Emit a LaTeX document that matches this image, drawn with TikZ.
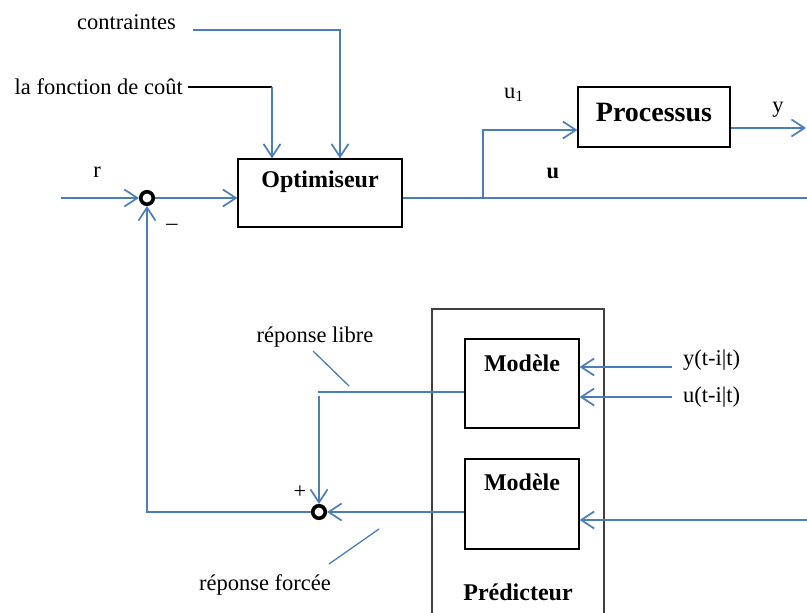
\documentclass[tikz,border=0pt]{standalone}
\usepackage{fontspec}
\setmainfont{Liberation Serif}
\usetikzlibrary{arrows.meta}
\definecolor{wire}{RGB}{74,126,187}
\tikzset{
  wireline/.style={draw=wire, line width=2.1pt},
  arr/.style={wireline, -{Straight Barb[length=13pt,width=17pt,line width=1.7pt]}},
  pointer/.style={draw=wire, line width=1.3pt},
  blockbox/.style={draw=black, line width=1.2pt, rectangle, inner sep=0pt},
  sumnode/.style={circle, draw=black, line width=3.6pt, minimum size=12.5pt, inner sep=0pt, fill=white},
  lbl/.style={inner sep=0pt, font=\fontsize{22.5}{26}\selectfont},
  blbl/.style={inner sep=0pt, font=\fontsize{24}{28}\selectfont\bfseries},
}
\begin{document}
\begin{tikzpicture}[x=1pt, y=-1pt]
\useasboundingbox (0,0) rectangle (807,613);

% main blocks
\node[blockbox, minimum width=164pt, minimum height=68pt] (opt) at (320,193) {};
\node[blbl] (optl) at (320,182) {Optimiseur};
\node[blockbox, minimum width=152pt, minimum height=60pt] (proc) at (654,117) {};
\node[blbl, font=\fontsize{28}{32}\selectfont\bfseries] (procl) at (654,113) {Processus};

% predictor frame, open at the bottom
\draw[draw=black!75, line width=1.2pt] (432,625) -- (432,309) -- (604,309) -- (604,625);
\node[blbl] (predl) at (518,592) {Prédicteur};
\node[blockbox, minimum width=114pt, minimum height=89pt] (m1) at (522,383.5) {};
\node[blbl] (m1l) at (522,363) {Modèle};
\node[blockbox, minimum width=114pt, minimum height=90pt] (m2) at (522,504) {};
\node[blbl] (m2l) at (522,482) {Modèle};

% summing points
\node[sumnode] (s1) at (147,198) {};
\node[sumnode] (s2) at (319,512) {};

% free ends of the connectors
\coordinate (rin) at (61,198);
\coordinate (cin) at (193,30);
\coordinate (fin) at (188,87);
\coordinate (fcorner) at (272,87);
\coordinate (uend) at (807,198);
\coordinate (ubr) at (483,198);
\coordinate (yend) at (806,128);
\coordinate (yin) at (672,367);
\coordinate (uin) at (672,397);
\coordinate (fbin) at (807,520);
\coordinate (lcorner) at (318,392);
\coordinate (ltop) at (319,396);

% labels
\node[lbl, anchor=east] (cl) at (176,22) {contraintes};
\node[lbl, anchor=east] (fl) at (183,87) {la fonction de coût};
\node[lbl] (rl) at (97,172) {r};
\node[lbl, anchor=base] (minus) at (172,222) {\_};
\node[lbl] (plus) at (300,492) {+};
\node[lbl] (u1l) at (514,95) {u\textsubscript{1}};
\node[lbl, font=\fontsize{22.5}{26}\selectfont\bfseries] (ul) at (553,173) {u};
\node[lbl] (yl) at (778,110) {y};
\node[lbl, anchor=west] (yil) at (683,360) {y(t-i|t)};
\node[lbl, anchor=west] (uil) at (683,397) {u(t-i|t)};
\node[lbl] (rll) at (315,337) {réponse libre};
\node[lbl] (rfl) at (265,585) {réponse forcée};

% reference path and feedback loop
\draw[arr] (rin) -- (s1);
\draw[arr] (s1) -- (opt.west |- s1);
\draw[arr] (s2) -| (s1);

% optimiser inputs
\draw[arr] (cin) -| (opt.north -| 340,0);
\draw[draw=black, line width=1.3pt] (fin) -- (fcorner);
\draw[arr] (fcorner) -- (opt.north -| fcorner);

% control signal
\draw[wireline] (opt.east |- uend) -- (uend);
\draw[arr] (ubr) |- (proc.west |- 0,130);
\draw[arr] (proc.east |- yend) -- (yend);

% predictor inputs
\draw[arr] (yin) -- (m1.east |- yin);
\draw[arr] (uin) -- (m1.east |- uin);
\draw[arr] (fbin) -- (m2.east |- fbin);

% predictor outputs
\draw[wireline, line width=1.4pt] (m1.west |- lcorner) -- (lcorner);
\draw[arr] (ltop) -- (s2);
\draw[arr] (m2.west |- s2) -- (s2);

% pointers to the responses
\draw[pointer] (313,351) -- (349,386);
\draw[pointer] (329,564) -- (379,529);
\end{tikzpicture}
\end{document}
